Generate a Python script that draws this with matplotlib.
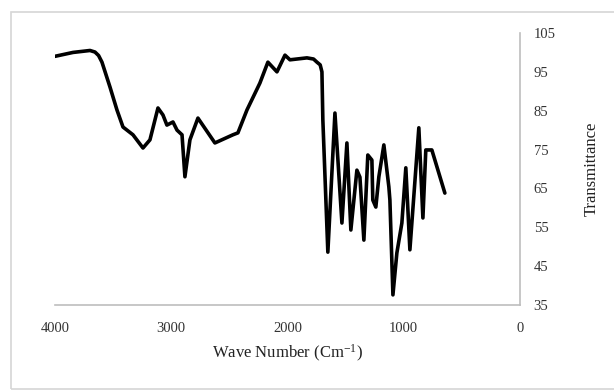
import matplotlib
matplotlib.use("Agg")
import matplotlib.pyplot as plt
from matplotlib.patches import Rectangle

plt.rcParams["font.family"] = ["Liberation Serif", "DejaVu Serif"]
plt.rcParams["mathtext.fontset"] = "custom"
plt.rcParams["mathtext.rm"] = "Liberation Serif"
plt.rcParams["mathtext.it"] = "Liberation Serif:italic"

# FTIR spectrum
wave_number = [4000, 3845, 3699, 3656, 3625, 3596, 3527, 3467, 3415, 3329,
               3243, 3183, 3114, 3071, 3037, 2985, 2950, 2907, 2882, 2839,
               2770, 2624, 2469, 2426, 2348, 2237, 2168, 2090, 2021, 1978,
               1832, 1775, 1746, 1718, 1703, 1695, 1652, 1591, 1531, 1488,
               1454, 1402, 1376, 1342, 1308, 1273, 1265, 1239, 1213, 1170,
               1127, 1118, 1092, 1058, 1015, 981, 946, 869, 834, 809, 757, 645]
transmittance = [99.0, 100.0, 100.5, 100.1, 99.2, 97.5, 91.1, 85.2, 80.8, 78.8,
                 75.4, 77.5, 85.7, 83.9, 81.3, 82.1, 80.0, 78.8, 68.0, 77.5,
                 83.1, 76.7, 78.8, 79.3, 85.2, 92.1, 97.5, 95.0, 99.3, 98.1,
                 98.6, 98.3, 97.5, 96.8, 95.0, 82.6, 48.6, 84.4, 56.1, 76.7,
                 54.3, 69.7, 67.9, 51.7, 73.6, 72.3, 62.0, 60.2, 68.0, 76.2,
                 65.4, 62.0, 37.6, 48.4, 56.1, 70.3, 49.2, 80.6, 57.4, 74.9,
                 74.9, 63.8]

x_ticks = [4000, 3000, 2000, 1000, 0]
y_ticks = [35, 45, 55, 65, 75, 85, 95, 105]

fig = plt.figure(figsize=(6.14, 3.91), dpi=100)
ax = fig.add_axes([0.0896, 0.22, 0.757, 0.6956])

ax.plot(wave_number, transmittance, color="black", lw=2.6,
        solid_joinstyle="round", solid_capstyle="round")

ax.set_xlim(4000, 0)
ax.set_ylim(35, 105)
ax.set_xticks(x_ticks)
ax.set_yticks(y_ticks)
ax.yaxis.tick_right()
ax.yaxis.set_label_position("right")
ax.tick_params(length=0, labelsize=10.5, colors="#333333")
ax.tick_params(axis="x", pad=12)
ax.tick_params(axis="y", pad=10)

for s in ["top", "left"]:
    ax.spines[s].set_visible(False)
for s in ["bottom", "right"]:
    ax.spines[s].set_color("#bdbdbd")
    ax.spines[s].set_linewidth(1.2)

ax.set_xlabel("Wave Number (Cm$^{-1}$)", fontsize=12, color="#222222", labelpad=6)
ax.set_ylabel("Transmittance", fontsize=12, color="#222222", labelpad=20)

# outer frame
fig.patches.append(Rectangle((11 / 614, 0.005), 0.99, 1 - 12 / 391 - 0.005,
                             transform=fig.transFigure, fill=False,
                             edgecolor="#d6d6d6", lw=1.2))

fig.savefig("out.png", dpi=100)
